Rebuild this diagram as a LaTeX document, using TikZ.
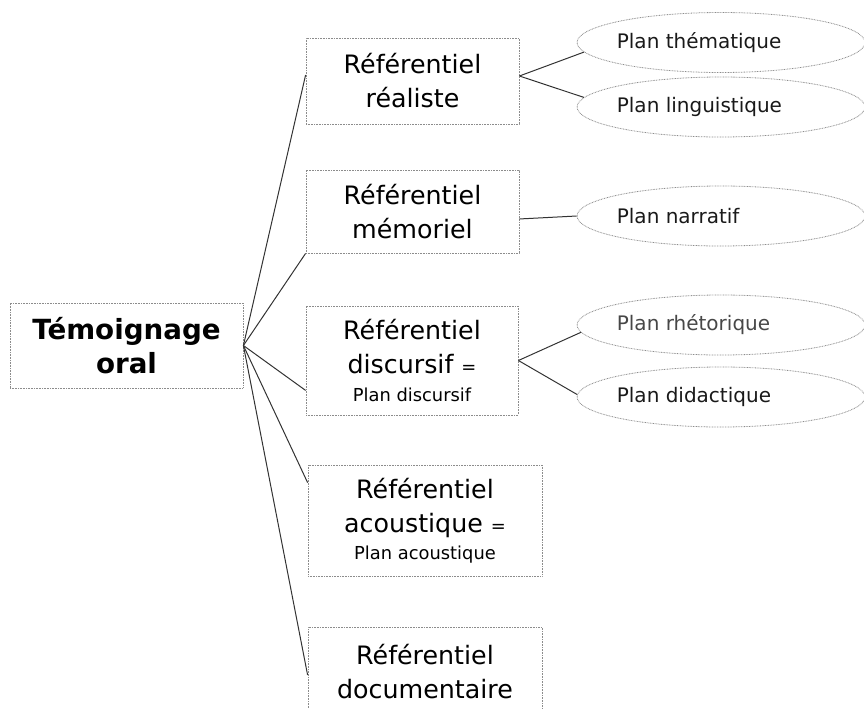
\documentclass[tikz,border=0pt]{standalone}
\usepackage{fontspec}
\setmainfont{DejaVu Sans}
\usetikzlibrary{shapes.geometric}
\definecolor{boxline}{gray}{0.55}
\definecolor{conn}{gray}{0.2}
\newcommand{\bigf}{\fontsize{19}{25.5}\selectfont}
\newcommand{\smallf}{\fontsize{13.4}{17}\selectfont}
\tikzset{
  refbox/.style={draw=boxline, line width=0.6pt, dash pattern=on 0.6pt off 0.6pt,
    rectangle, inner sep=0pt, align=center, font=\bigf, text=black},
  planell/.style={draw=boxline, line width=0.6pt, dash pattern=on 0.6pt off 0.6pt,
    ellipse, inner sep=0pt, minimum width=216pt, minimum height=45pt},
  plantext/.style={anchor=west, inner sep=0pt, font=\fontsize{15}{18}\selectfont, text=black!90},
  conn/.style={draw=conn, line width=0.75pt}
}
\begin{document}
\begin{tikzpicture}[x=0.75pt, y=-0.75pt]
\useasboundingbox (0,0) rectangle (864,708);
% root
\node[refbox, minimum width=174.75pt, minimum height=63.75pt,
      font=\fontsize{20.8}{25.5}\selectfont\bfseries] (root) at (126.5,345.5) {Témoignage\\oral};
% referentiels
\node[refbox, minimum width=159.75pt, minimum height=64.5pt] (b1) at (412.5,81) {Référentiel\\réaliste};
\node[refbox, minimum width=159.75pt, minimum height=62.25pt] (b2) at (412.5,211.5) {Référentiel\\mémoriel};
\node[refbox, minimum width=159pt, minimum height=81.75pt] (b3) at (412,360.5)
  {Référentiel\\discursif {\smallf =}\\[-5pt]{\smallf Plan discursif}};
\node[refbox, minimum width=175.5pt, minimum height=83.25pt] (b4) at (425,520.5)
  {Référentiel\\acoustique {\smallf =}\\[-5pt]{\smallf Plan acoustique}};
\node[refbox, minimum width=175.5pt, minimum height=75pt, anchor=north] (b5) at (425,627)
  {\rule{0pt}{0pt}\\[-19pt]Référentiel\\documentaire};
% plans
\node[planell] (e1) at (721,42.5) {};
\node[planell] (e2) at (721,107) {};
\node[planell] (e3) at (721,216) {};
\node[planell] (e4) at (721,325) {};
\node[planell] (e5) at (721,397) {};
\node[plantext] (t1) at ([xshift=30pt]e1.west) {Plan thématique};
\node[plantext] (t2) at ([xshift=30pt]e2.west) {Plan linguistique};
\node[plantext] (t3) at ([xshift=30pt]e3.west) {Plan narratif};
\node[plantext, text=black!72] (t4) at ([xshift=30pt]e4.west) {Plan rhétorique};
\node[plantext] (t5) at ([xshift=30pt]e5.west) {Plan didactique};
% connectors from root
\draw[conn] (root.east) -- ([yshift=4.5pt]b1.west);
\draw[conn] (root.east) -- (b2.south west);
\draw[conn] (root.east) -- ([yshift=18.75pt]b3.south west);
\draw[conn] (root.east) -- ([yshift=-13.5pt]b4.north west);
\draw[conn] (root.east) -- ([yshift=-36pt]b5.north west);
% connectors to plans
\draw[conn] ([yshift=3.75pt]b1.east) -- (e1.184);
\draw[conn] ([yshift=3.75pt]b1.east) -- (e2.176);
\draw[conn] ([yshift=-5.6pt]b2.east) -- (e3.west);
\draw[conn] (b3.east) -- (e4.183);
\draw[conn] (b3.east) -- (e5.179);
\end{tikzpicture}
\end{document}
